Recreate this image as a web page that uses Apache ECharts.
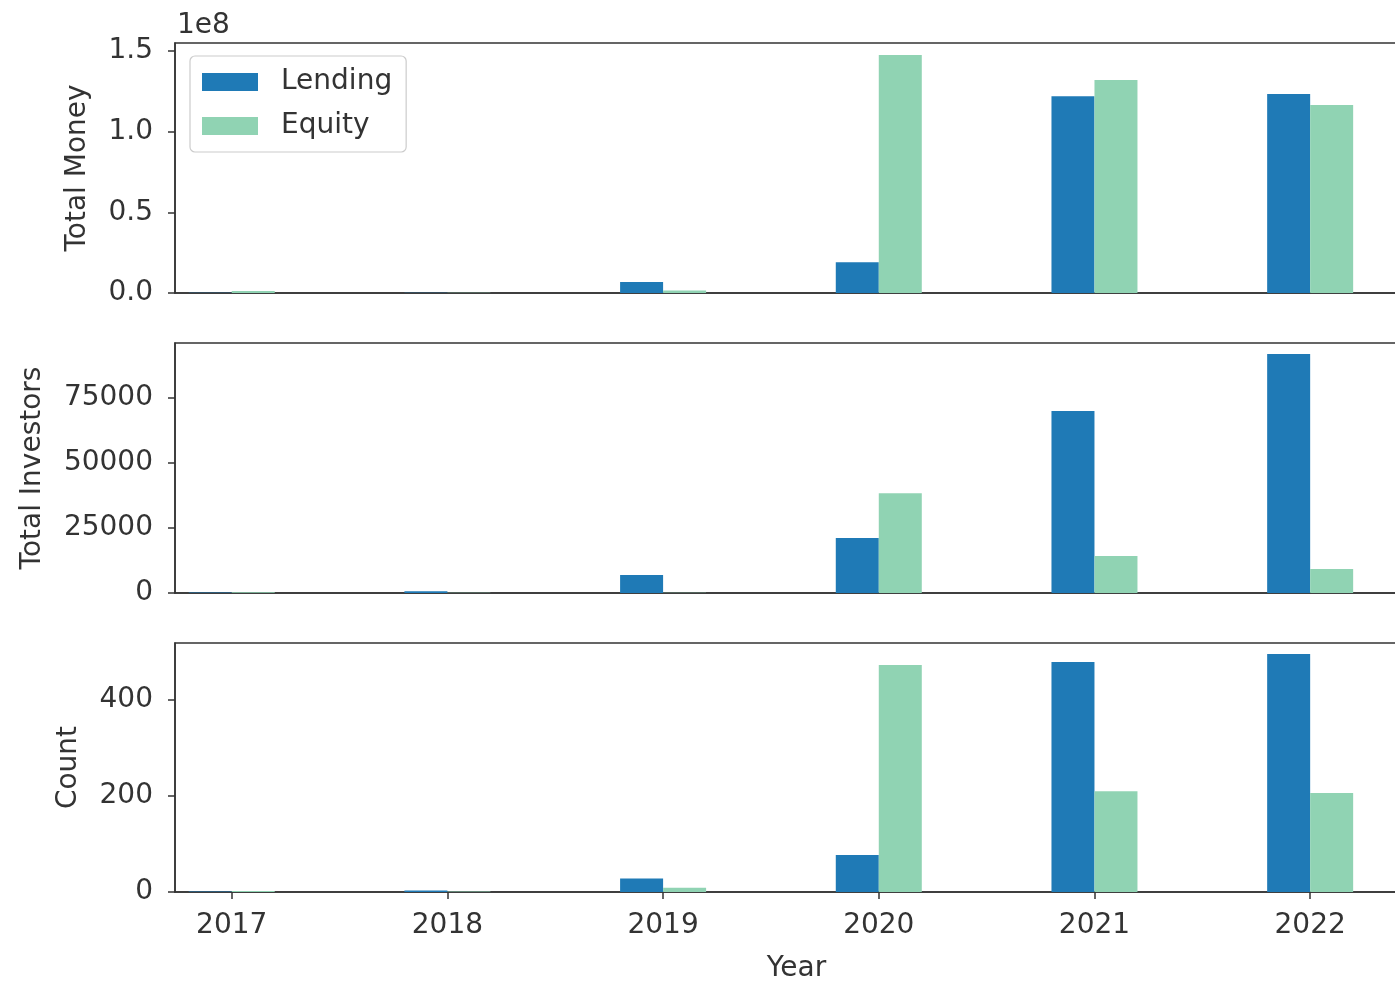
<!DOCTYPE html>
<html>
<head>
<meta charset="utf-8">
<script src="https://cdn.jsdelivr.net/npm/echarts@6/dist/echarts.min.js"></script>
<style>
html,body{margin:0;padding:0;background:#fff;overflow:hidden;width:1395px;height:989px;}
#chart{width:1440px;height:989px;}
</style>
</head>
<body>
<div id="chart"></div>
<script>
// ---- data ----
const years = [2017, 2018, 2019, 2020, 2021, 2022];
const moneyLending = [1e5, 2e5, 6.8e6, 1.9e7, 1.22e8, 1.233e8];
const moneyEquity = [1.2e6, 2e5, 1.5e6, 1.475e8, 1.32e8, 1.165e8];
const investorsLending = [150, 700, 6900, 21150, 70000, 91900];
const investorsEquity = [300, 100, 100, 38400, 14200, 9200];
const countLending = [1, 3, 28, 77, 479, 496];
const countEquity = [2, 1, 9, 473, 210, 206];
const moneyTicks = [0, 0.5e8, 1.0e8, 1.5e8];
const investorTicks = [0, 25000, 50000, 75000];
const countTicks = [0, 200, 400];

const FONT = 'DejaVu Sans';
const LEND = '#1f7ab6';
const EQ = '#90d3b3';
const AX = '#333333';
const FS = 28;

const pairs = (vals) => years.map((y, i) => [y, vals[i]]);

const tops = [43, 343, 643];
const heights = [250, 250, 249];
const grids = tops.map((t, i) => ({
  left: 175, width: 1243, top: t, height: heights[i],
  show: true, borderColor: AX, borderWidth: 1.5, backgroundColor: '#fff'
}));

const xAxes = [0, 1, 2].map(i => ({
  type: 'value', gridIndex: i, min: 2016.737, max: 2022.5,
  splitLine: { show: false },
  axisLine: { show: true, lineStyle: { color: AX, width: 1.5 } },
  axisTick: { show: i === 2, length: 7, customValues: years, lineStyle: { color: AX, width: 1.5 } },
  axisLabel: { show: i === 2, customValues: years, margin: 20, fontFamily: FONT, fontSize: FS, color: '#333',
    formatter: v => String(v) },
  name: i === 2 ? 'Year' : '', nameLocation: 'middle', nameGap: 63,
  nameTextStyle: { fontFamily: FONT, fontSize: FS, color: '#333' }
}));

function yAxis(i, max, ticks, name, gap, fmt) {
  return {
    type: 'value', gridIndex: i, min: 0, max: max,
    splitLine: { show: false },
    axisLine: { show: true, lineStyle: { color: AX, width: 1.5 } },
    axisTick: { show: true, length: 7, customValues: ticks, lineStyle: { color: AX, width: 1.5 } },
    axisLabel: { customValues: ticks, margin: 22, fontFamily: FONT, fontSize: FS, color: '#333', formatter: fmt },
    name: name, nameLocation: 'middle', nameGap: gap, nameRotate: 90,
    nameTextStyle: { fontFamily: FONT, fontSize: FS, color: '#333' }
  };
}

const yAxes = [
  yAxis(0, 1.5496e8, moneyTicks, 'Total Money', 83, v => (v / 1e8).toFixed(1)),
  yAxis(1, 96150, investorTicks, 'Total Investors', 128, v => String(v)),
  yAxis(2, 518.75, countTicks, 'Count', 92, v => String(v))
];

function bar(name, color, vals, idx) {
  return {
    type: 'bar', name: name, xAxisIndex: idx, yAxisIndex: idx,
    data: pairs(vals), barWidth: 43, barGap: '0%',
    itemStyle: { color: color }, emphasis: { disabled: true }
  };
}

const series = [
  bar('Lending', LEND, moneyLending, 0), bar('Equity', EQ, moneyEquity, 0),
  bar('Lending', LEND, investorsLending, 1), bar('Equity', EQ, investorsEquity, 1),
  bar('Lending', LEND, countLending, 2), bar('Equity', EQ, countEquity, 2)
];

const chart = echarts.init(document.getElementById('chart'), null, { renderer: 'canvas' });
chart.setOption({
  animation: false,
  backgroundColor: '#fff',
  grid: grids,
  xAxis: xAxes,
  yAxis: yAxes,
  series: series,
  legend: {
    data: ['Lending', 'Equity'],
    orient: 'vertical', left: 190, top: 56,
    padding: [12, 14, 12, 12],
    itemWidth: 56, itemHeight: 18, itemGap: 16, icon: 'rect',
    backgroundColor: '#fff', borderColor: '#cccccc', borderWidth: 1.2, borderRadius: 5,
    textStyle: { fontFamily: FONT, fontSize: FS, color: '#333', padding: [0, 0, 0, 18] }
  },
  graphic: [{
    type: 'text', left: 177, top: 12,
    style: { text: '1e8', fontFamily: FONT, fontSize: FS, fill: '#333' }
  }]
});
</script>
</body>
</html>
